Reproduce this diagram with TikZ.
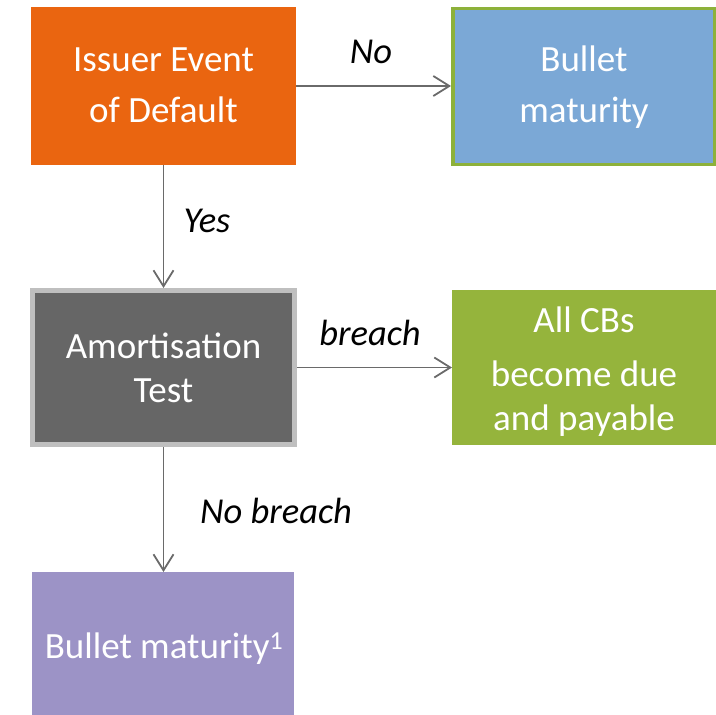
\documentclass[tikz,border=0pt]{standalone}
\usepackage{fontspec}
\setmainfont{Carlito}
\usetikzlibrary{arrows.meta}
\definecolor{orangebox}{HTML}{EA6510}
\definecolor{bluebox}{HTML}{7BA8D6}
\definecolor{greenbox}{HTML}{95B43C}
\definecolor{greenedge}{HTML}{8DB13A}
\definecolor{graybox}{HTML}{666666}
\definecolor{grayedge}{HTML}{BFBFBF}
\definecolor{purplebox}{HTML}{9C93C6}
\definecolor{arrowgray}{HTML}{6A6A6A}
\begin{document}
\begin{tikzpicture}[x=1bp,y=-1bp,
  box/.style={draw=none, inner sep=0, outer sep=0},
  boxtext/.style={anchor=base, inner sep=0, text=white, font=\fontsize{37bp}{44bp}\selectfont},
  lbl/.style={anchor=base, inner sep=0, text=black, font=\fontsize{36.5bp}{42bp}\selectfont\itshape},
  conn/.style={draw=arrowgray, line width=1.8bp, -{Straight Barb[length=16bp,width=20bp,line width=1.8bp]}}]
\useasboundingbox (0,0) rectangle (716,715);
% boxes
\node[box, fill=orangebox, minimum width=265bp, minimum height=158bp] (ied) at (163.5,86) {};
\node[box, fill=bluebox, draw=greenedge, line width=3.5bp, outer sep=auto, minimum width=261.5bp, minimum height=155.5bp] (bm1) at (583.5,86.5) {};
\node[box, fill=graybox, draw=grayedge, line width=5bp, outer sep=auto, minimum width=262bp, minimum height=154bp] (amt) at (163.5,367.5) {};
\node[box, fill=greenbox, minimum width=264bp, minimum height=155bp] (due) at (584,367.5) {};
\node[box, fill=purplebox, minimum width=262bp, minimum height=143bp] (bm2) at (163,643.5) {};
% box texts
\node[boxtext] (t1a) at (163.5,72) {Issuer Event};
\node[boxtext] (t1b) at (163.5,123) {of Default};
\node[boxtext] (t2a) at (584,72) {Bullet};
\node[boxtext] (t2b) at (584,123) {maturity};
\node[boxtext] (t3a) at (163.5,358) {Amortisation};
\node[boxtext] (t3b) at (163.5,402) {Test};
\node[boxtext] (t4a) at (584,332) {All CBs};
\node[boxtext] (t4b) at (584,386) {become due};
\node[boxtext] (t4c) at (584,430) {and payable};
\node[boxtext] (t5) at (164,658) {Bullet maturity\textsuperscript{1}};
% connectors
\draw[conn] (ied.east) -- (ied.east -| bm1.west);
\draw[conn] (ied.south) -- (amt.north);
\draw[conn] (amt.east) -- (amt.east -| due.west);
\draw[conn] (amt.south) -- (amt.south |- bm2.north);
% labels
\node[lbl] (lno) at (371,64) {No};
\node[lbl] (lyes) at (207,232) {Yes};
\node[lbl] (lbreach) at (370,345) {breach};
\node[lbl] (lnobreach) at (276,523) {No breach};
\end{tikzpicture}
\end{document}
